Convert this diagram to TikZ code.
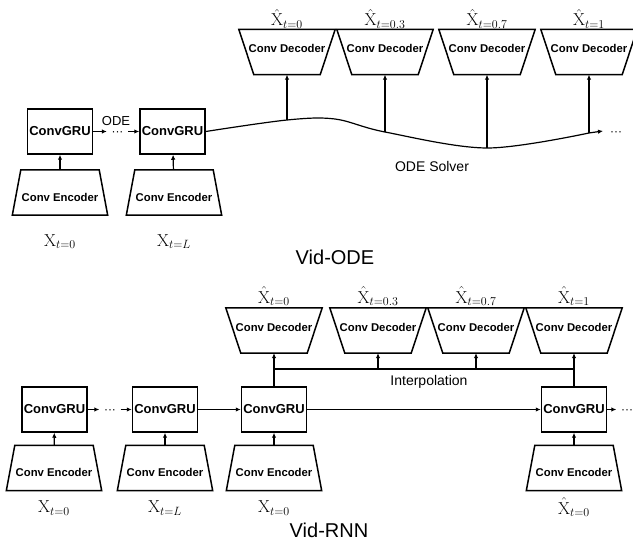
\documentclass[tikz,border=0pt]{standalone}
\usepackage[no-math]{fontspec}
\setmainfont{Liberation Sans}
\usepackage{amsmath}
\usetikzlibrary{arrows.meta,positioning,calc}

\tikzset{
  shapeline/.style={line width=1.5pt, line join=miter},
  gru/.style={draw, line width=1.5pt, minimum width=65pt, minimum height=45pt, inner sep=0pt,
    font=\fontsize{13}{15}\selectfont\bfseries},
  enc/.style={minimum width=95pt, minimum height=45pt, inner sep=0pt, text height=18pt, text depth=0pt,
    font=\fontsize{11.3}{13}\selectfont\bfseries},
  dec/.style={enc, minimum width=96pt, text height=7pt, text depth=5pt},
  lbl/.style={font=\fontsize{17}{20}\selectfont, inner sep=1pt},
  txt/.style={font=\fontsize{14}{16}\selectfont},
  dotsbox/.style={inner sep=4.5pt, text height=8pt, text depth=0pt, font=\fontsize{12}{14}\selectfont},
  arr/.style={-{Latex[length=5pt,width=4.5pt]}, line width=1.2pt},
}
% outlines of the encoder / decoder blocks
\newcommand{\encline}[1]{\draw[shapeline] ($(#1.north west)+(8.5,0)$) -- ($(#1.north east)-(8.5,0)$)
  -- (#1.south east) -- (#1.south west) -- cycle;}
\newcommand{\decline}[1]{\draw[shapeline] (#1.north west) -- (#1.north east)
  -- ($(#1.south east)-(15,0)$) -- ($(#1.south west)+(15,0)$) -- cycle;}

\begin{document}
\begin{tikzpicture}[x=1pt,y=-1pt]
\useasboundingbox (0,0) rectangle (633,540);

% Vid-ODE
\node[gru] (gA) at (60,131.5) {ConvGRU};
\node[gru] (gB) at (172.5,131.5) {ConvGRU};
\node[dotsbox] (dA) at (117.5,131.5) {···};
\node[txt, font=\fontsize{13}{15}\selectfont] (lODE) at (116,121) {ODE};
\node[enc] (eA) at (60,192.5) {Conv Encoder};
\node[enc] (eB) at (174,192.5) {Conv Encoder};
\node[lbl, below=18pt of eA] (xA) {$\mathrm{X}_{t=0}$};
\node[lbl, below=18pt of eB] (xB) {$\mathrm{X}_{t=L}$};

\node[dec] (dcA) at (287,52) {Conv Decoder};
\node[dec] (dcB) at (385,52) {Conv Decoder};
\node[dec] (dcC) at (487,52) {Conv Decoder};
\node[dec] (dcD) at (589,52) {Conv Decoder};
\node[lbl, above=0pt of dcA] (yA) {$\hat{\mathrm{X}}_{t=0}$};
\node[lbl, above=0pt of dcB] (yB) {$\hat{\mathrm{X}}_{t=0.3}$};
\node[lbl, above=0pt of dcC] (yC) {$\hat{\mathrm{X}}_{t=0.7}$};
\node[lbl, above=0pt of dcD] (yD) {$\hat{\mathrm{X}}_{t=1}$};

\coordinate (jA) at (287,120);
\coordinate (jB) at (385,132);
\coordinate (jC) at (487,148);
\coordinate (jD) at (589,133);
\coordinate (jE) at (603,131);
\node[dotsbox] (dB) at (616,132) {···};
\node[txt] (lSolver) at (432,166) {ODE Solver};
\node[font=\fontsize{20}{24}\selectfont] (tODE) at (335,257) {Vid-ODE};

\foreach \n in {eA,eB} {\encline{\n}}
\foreach \n in {dcA,dcB,dcC,dcD} {\decline{\n}}
\draw[arr] (eA) -- (gA);
\draw[arr] (eB) -- (gB);
\draw[arr] (gA.east) -- (dA.west);
\draw[arr] (dA.east) -- (gB.west);
\draw[arr] plot[smooth, tension=0.55] coordinates {(gB.east) (jA) (335,119) (jB) (jC) (jD)} -- (jE);
\draw[arr] (jA) -- (dcA.south);
\draw[arr] (jB) -- (dcB.south);
\draw[arr] (jC) -- (dcC.south);
\draw[arr] (jD) -- (dcD.south);

% Vid-RNN
\node[gru] (hA) at (54.5,409.5) {ConvGRU};
\node[gru] (hB) at (165,409.5) {ConvGRU};
\node[gru] (hC) at (274,409.5) {ConvGRU};
\node[gru] (hD) at (574,409.5) {ConvGRU};
\node[dotsbox] (dC) at (110,409.5) {···};
\node[dotsbox] (dD) at (627,409.5) {···};
\node[enc] (fA) at (54,468) {Conv Encoder};
\node[enc] (fB) at (165,468) {Conv Encoder};
\node[enc] (fC) at (274,468) {Conv Encoder};
\node[enc] (fD) at (574,468) {Conv Encoder};
\node[lbl, below=9pt of fA] (zA) {$\mathrm{X}_{t=0}$};
\node[lbl, below=9pt of fB] (zB) {$\mathrm{X}_{t=L}$};
\node[lbl, below=9pt of fC] (zC) {$\mathrm{X}_{t=0}$};
\node[lbl, below=6pt of fD] (zD) {$\hat{\mathrm{X}}_{t=0}$};

\node[dec] (kA) at (274,330.5) {Conv Decoder};
\node[dec] (kB) at (378,330.5) {Conv Decoder};
\node[dec] (kC) at (476,330.5) {Conv Decoder};
\node[dec] (kD) at (574,330.5) {Conv Decoder};
\node[lbl, above=1pt of kA] (wA) {$\hat{\mathrm{X}}_{t=0}$};
\node[lbl, above=1pt of kB] (wB) {$\hat{\mathrm{X}}_{t=0.3}$};
\node[lbl, above=1pt of kC] (wC) {$\hat{\mathrm{X}}_{t=0.7}$};
\node[lbl, above=1pt of kD] (wD) {$\hat{\mathrm{X}}_{t=1}$};

\coordinate (iA) at (274,369);
\coordinate (iD) at (574,369);
\node[txt] (lInterp) at (429,382) {Interpolation};
\node[font=\fontsize{20}{24}\selectfont] (tRNN) at (329,530) {Vid-RNN};

\foreach \n in {fA,fB,fC,fD} {\encline{\n}}
\foreach \n in {kA,kB,kC,kD} {\decline{\n}}
\draw[arr] (fA) -- (hA);
\draw[arr] (fB) -- (hB);
\draw[arr] (fC) -- (hC);
\draw[arr] (fD) -- (hD);
\draw[arr] (hA.east) -- (dC.west);
\draw[arr] (dC.east) -- (hB.west);
\draw[arr] (hB) -- (hC);
\draw[arr] (hC) -- (hD);
\draw[arr] (hD.east) -- (dD.west);
\draw[arr] (hC.north) -- (kA.south);
\draw[arr] (hD.north) -- (kD.south);
\draw[line width=1.2pt] (iA) -- (iD);
\draw[arr] (iA -| kB.south) -- (kB.south);
\draw[arr] (iA -| kC.south) -- (kC.south);
\end{tikzpicture}
\end{document}
